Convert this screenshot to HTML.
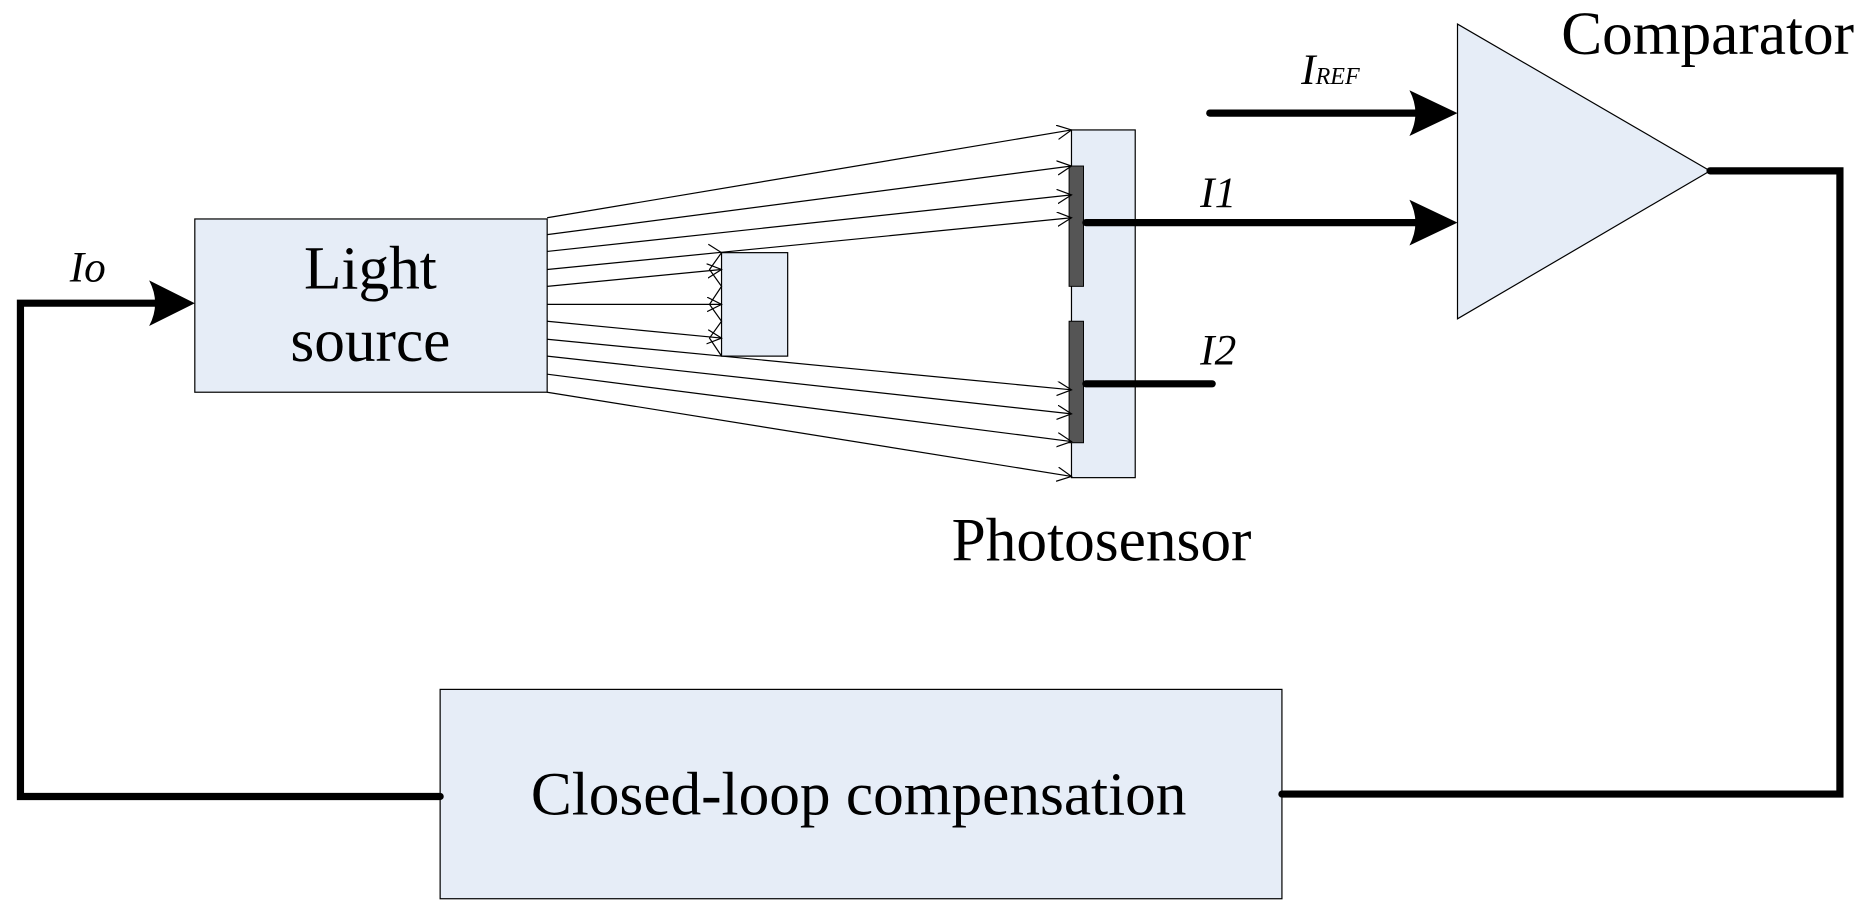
<!DOCTYPE html>
<html><head><meta charset="utf-8"><style>
html,body{margin:0;padding:0;background:#fff;}
svg{display:block;}
text{font-family:"Liberation Serif",serif;fill:#000;}
</style></head><body>
<svg width="1876" height="924" viewBox="0 0 1560 768" preserveAspectRatio="none" xmlns="http://www.w3.org/2000/svg">
<defs>
<marker id="v" markerWidth="14" markerHeight="14" refX="12" refY="6" orient="auto" markerUnits="userSpaceOnUse">
<path d="M0,0 L12,6 L0,12" fill="none" stroke="#000" stroke-width="1"/>
</marker>
</defs>
<rect x="162" y="182" width="293" height="144" fill="#e6edf7" stroke="#000" stroke-width="1"/>
<rect x="600" y="210" width="55" height="86" fill="#e6edf7" stroke="#000" stroke-width="1"/>
<rect x="891" y="108" width="53" height="289" fill="#e6edf7" stroke="#000" stroke-width="1"/>
<rect x="889" y="138" width="12" height="100" fill="#555" stroke="#000" stroke-width="0.8"/>
<rect x="889" y="267" width="12" height="101" fill="#555" stroke="#000" stroke-width="0.8"/>
<rect x="366" y="573" width="700" height="174" fill="#e6edf7" stroke="#000" stroke-width="1"/>
<polygon points="1212,20 1212,265 1422,142" fill="#e6edf7" stroke="#000" stroke-width="1"/>
<g stroke="#000" stroke-width="1" fill="none" marker-end="url(#v)">
<line x1="455" y1="181" x2="891" y2="108"/>
<line x1="455" y1="195" x2="891" y2="138"/>
<line x1="455" y1="209" x2="891" y2="162"/>
<line x1="455" y1="224" x2="891" y2="181"/>
<line x1="455" y1="238" x2="600" y2="224"/>
<line x1="455" y1="253" x2="600" y2="253"/>
<line x1="455" y1="267" x2="600" y2="281"/>
<line x1="455" y1="282" x2="891" y2="324"/>
<line x1="455" y1="296" x2="891" y2="344"/>
<line x1="455" y1="311" x2="891" y2="367"/>
<line x1="455" y1="326" x2="891" y2="396"/>
</g>
<g stroke="#000" stroke-width="1" fill="none">
<path d="M589,203 L600,210 L590,224 L600,238 L590,253 L600,267 L590,281 L600,296"/>
</g>
<g stroke="#000" stroke-width="6" fill="none" stroke-linecap="round">
<line x1="903" y1="185" x2="1180" y2="185"/>
<line x1="903" y1="319" x2="1008" y2="319"/>
<line x1="1006" y1="94" x2="1180" y2="94"/>
<polyline points="1422,142 1530,142 1530,660 1066,660"/>
<polyline points="366,662 17,662 17,252 135,252"/>
</g>
<g fill="#000">
<path d="M1172,166 L1212,185 L1172,204 Q1182,185 1172,166 Z"/>
<path d="M1172,75 L1212,94 L1172,113 Q1182,94 1172,75 Z"/>
<path d="M124,233 L162,252 L124,271 Q134,252 124,233 Z"/>
</g>
<text x="308" y="240" font-size="51" text-anchor="middle">Light</text>
<text x="308" y="300" font-size="51" text-anchor="middle">source</text>
<text x="916" y="466" font-size="51" text-anchor="middle">Photosensor</text>
<text x="1420" y="45" font-size="51" text-anchor="middle">Comparator</text>
<text x="714" y="677" font-size="51" text-anchor="middle">Closed-loop compensation</text>
<text x="58" y="234" font-size="36" font-style="italic">Io</text>
<text x="998" y="172" font-size="36" font-style="italic">I1</text>
<text x="998" y="303" font-size="36" font-style="italic">I2</text>
<text x="1082" y="70" font-size="36" font-style="italic">I<tspan font-size="20">REF</tspan></text>
</svg>
</body></html>
